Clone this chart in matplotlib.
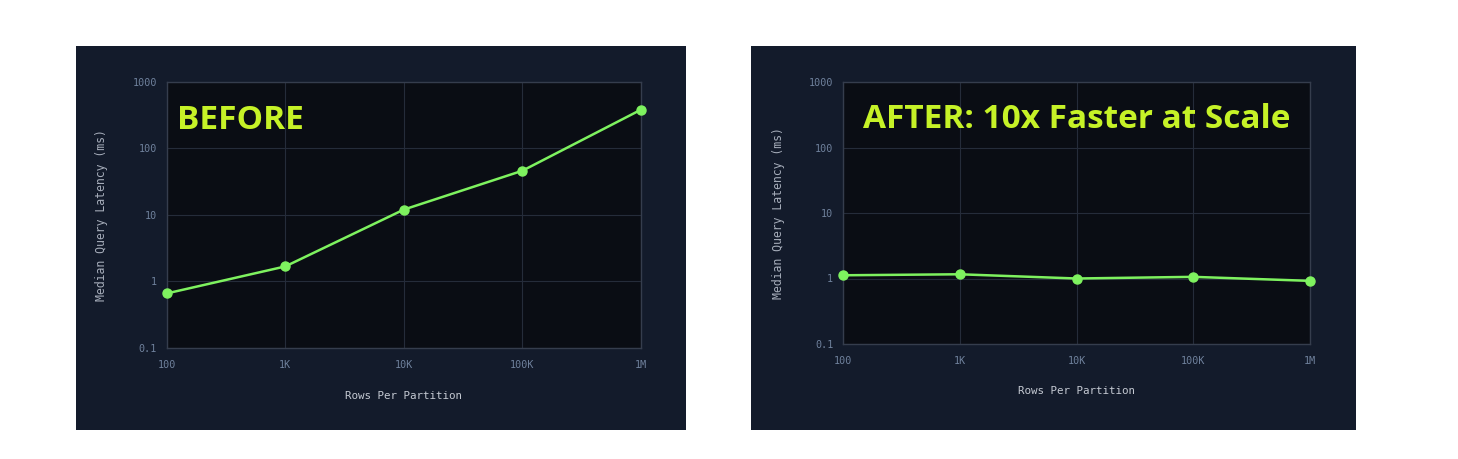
import matplotlib
matplotlib.use("Agg")
import matplotlib.pyplot as plt
from matplotlib.patches import Rectangle

rows = [100, 1000, 10000, 100000, 1000000]
x_labels = ["100", "1K", "10K", "100K", "1M"]
before_ms = [0.66, 1.68, 12.0, 46.0, 380.0]
after_ms = [1.12, 1.16, 1.0, 1.06, 0.92]
y_ticks = [0.1, 1, 10, 100, 1000]
y_labels = ["0.1", "1", "10", "100", "1000"]

PANEL = "#131b2b"
AXBG = "#0a0d14"
LINE = "#7ef25f"
TITLE = "#c6f227"
TICK = "#6f819c"
GRID = "#252c3a"
SPINE = "#353d4d"

W, H = 1458, 459
fig = plt.figure(figsize=(W / 100, H / 100), dpi=100)
fig.patch.set_facecolor("white")

def fx(px):
    return px / W

def fy(py):
    return 1 - py / H

panels = [(76, 46, 686, 430), (751, 46, 1356, 430)]
for (x0, y0, x1, y1) in panels:
    fig.patches.append(Rectangle((fx(x0), fy(y1)), fx(x1) - fx(x0), fy(y0) - fy(y1),
                                 transform=fig.transFigure, facecolor=PANEL,
                                 edgecolor="none", zorder=-5))

axes_px = [(166.7, 81.7, 641, 348), (843, 82, 1310, 344)]
series = [before_ms, after_ms]
titles = ["BEFORE", "AFTER: 10x Faster at Scale"]
title_pos = [(0.022, 0.855, "left"), (0.5, 0.856, "center")]

for (x0, y0, x1, y1), vals, title, (tx, ty, ha) in zip(axes_px, series, titles, title_pos):
    ax = fig.add_axes([fx(x0), fy(y1), fx(x1) - fx(x0), fy(y0) - fy(y1)])
    ax.set_zorder(2)
    ax.set_facecolor(AXBG)
    ax.set_xscale("log")
    ax.set_yscale("log")
    ax.set_xlim(rows[0], rows[-1])
    ax.set_ylim(0.1, 1000)
    ax.set_xticks(rows)
    ax.set_xticklabels(x_labels)
    ax.set_yticks(y_ticks)
    ax.set_yticklabels(y_labels)
    ax.minorticks_off()
    ax.grid(True, color=GRID, linewidth=0.8)
    ax.set_axisbelow(True)
    for side in ["top", "right", "left", "bottom"]:
        ax.spines[side].set_color(SPINE)
        ax.spines[side].set_linewidth(1.0)
    ax.tick_params(axis="both", length=0, colors=TICK, labelsize=7.3)
    ax.tick_params(axis="x", pad=9)
    ax.tick_params(axis="y", pad=7)
    for lab in ax.get_xticklabels() + ax.get_yticklabels():
        lab.set_family("DejaVu Sans Mono")
    ax.set_xlabel("Rows Per Partition", family="DejaVu Sans Mono", fontsize=7.8,
                  color="#c4c9d2")
    ax.set_ylabel("Median Query Latency (ms)", family="DejaVu Sans Mono", fontsize=8.3,
                  color="#a6adba")
    ax.xaxis.set_label_coords(0.5, -0.16)
    ax.yaxis.set_label_coords(-0.124, 0.5)
    ax.plot(rows, vals, color=LINE, linewidth=1.8, marker="o", markersize=6.5,
            clip_on=False, zorder=3)
    ax.text(tx, ty, title, transform=ax.transAxes, ha=ha, va="center",
            family="Open Sans", fontweight="bold", fontsize=24, color=TITLE)

fig.savefig("out.png", dpi=100, facecolor=fig.get_facecolor())
